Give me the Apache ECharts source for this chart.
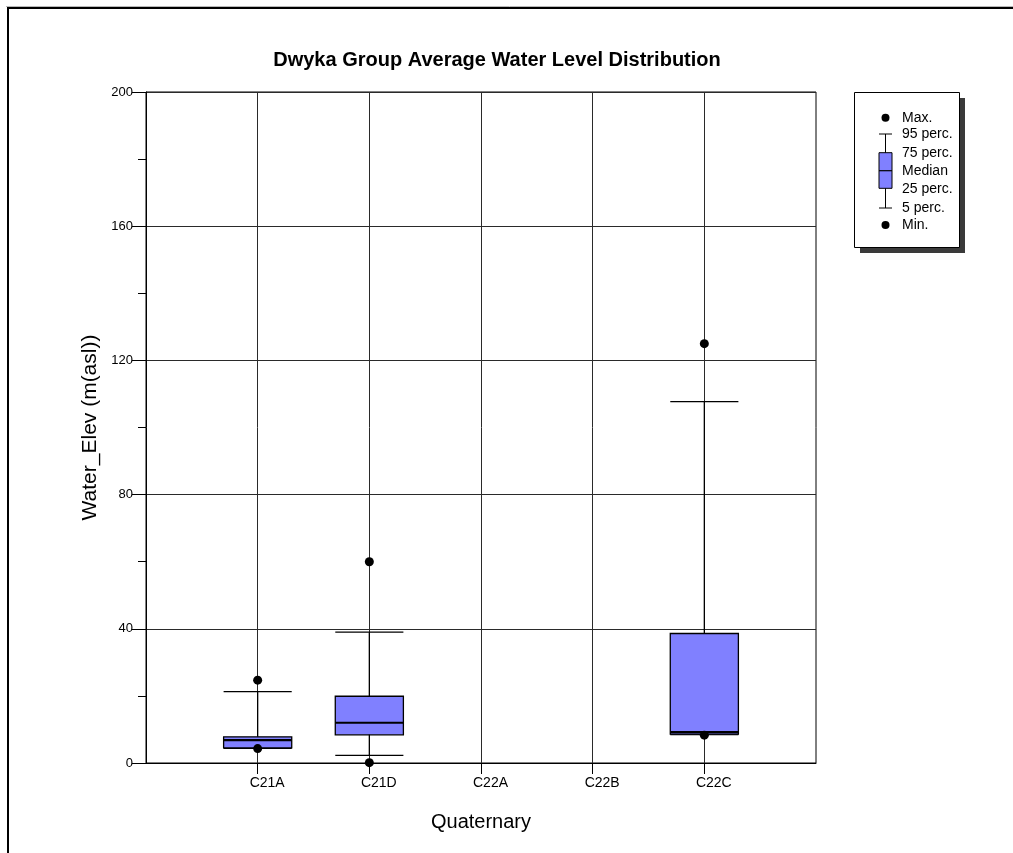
<!DOCTYPE html>
<html>
<head>
<meta charset="utf-8">
<title>Dwyka Group Average Water Level Distribution</title>
<script src="https://cdn.jsdelivr.net/npm/echarts@6/dist/echarts.min.js"></script>
<style>
  html, body { margin: 0; padding: 0; background: #ffffff; }
  #chart { width: 1013px; height: 853px; }
</style>
</head>
<body>
<div id="chart"></div>
<script>
// Sub-catchments of the Quaternary grouping
const categories = ['C21A', 'C21D', 'C22A', 'C22B', 'C22C'];

// Water level statistics per sub-catchment (m asl); null = no boreholes
const minVals    = [4.3, 0.1, null, null, 8.3];
const perc5      = [4.4, 2.3, null, null, 8.5];
const perc25     = [4.5, 8.4, null, null, 8.6];
const medians    = [6.8, 12.0, null, null, 9.2];
const perc75     = [7.8, 19.9, null, null, 38.6];
const perc95     = [21.3, 39.0, null, null, 107.7];
const maxVals    = [24.7, 60.0, null, null, 125.0];

// Y axis ticks
const yTicks = [0, 40, 80, 120, 160, 200];

const legendLabels = ['Max.', '95 perc.', '75 perc.', 'Median', '25 perc.', '5 perc.', 'Min.'];

const FONT = "'Liberation Sans', Arial, Helvetica, sans-serif";
const BOX_FILL = '#8080ff';

// One row per category: [xPosition, min, p5, p25, median, p75, p95, max]
const boxRows = categories.map((c, i) => [
  i + 1, minVals[i], perc5[i], perc25[i], medians[i], perc75[i], perc95[i], maxVals[i]
]).filter(r => r[4] !== null);

function renderBox(params, api) {
  const x = api.value(0);
  const vals = [1, 2, 3, 4, 5, 6, 7].map(k => api.value(k));
  const pt = v => api.coord([x, v]);
  const half = api.size([1, 0])[0] * 0.305;
  const cx = pt(vals[3])[0];
  const yMin = pt(vals[0])[1], y5 = pt(vals[1])[1], y25 = pt(vals[2])[1];
  const yMed = pt(vals[3])[1], y75 = pt(vals[4])[1], y95 = pt(vals[5])[1];
  const yMax = pt(vals[6])[1];
  const line = { stroke: '#000', lineWidth: 1.3 };
  return {
    type: 'group',
    children: [
      { type: 'line', shape: { x1: cx, y1: y95, x2: cx, y2: y5 }, style: line },
      { type: 'line', shape: { x1: cx - half, y1: y95, x2: cx + half, y2: y95 }, style: line },
      { type: 'line', shape: { x1: cx - half, y1: y5, x2: cx + half, y2: y5 }, style: line },
      { type: 'rect', shape: { x: cx - half, y: y75, width: 2 * half, height: y25 - y75 },
        style: { fill: BOX_FILL, stroke: '#000', lineWidth: 1.3 } },
      { type: 'line', shape: { x1: cx - half, y1: yMed, x2: cx + half, y2: yMed },
        style: { stroke: '#000', lineWidth: 2.2 } },
      { type: 'circle', shape: { cx: cx, cy: yMax, r: 4.5 }, style: { fill: '#000' } },
      { type: 'circle', shape: { cx: cx, cy: yMin, r: 4.5 }, style: { fill: '#000' } }
    ]
  };
}

// Legend panel drawn in the upper right corner
function legendGraphic() {
  const lx = 885.5;
  const rows = [117.7, 134, 152.7, 170.7, 188.3, 208, 225];
  const children = [
    { type: 'rect', shape: { x: 860, y: 98, width: 105, height: 155 }, style: { fill: '#3a3a3a' } },
    { type: 'rect', shape: { x: 854.5, y: 92.5, width: 105, height: 155 },
      style: { fill: '#fff', stroke: '#000', lineWidth: 1 } },
    { type: 'line', shape: { x1: lx, y1: rows[1], x2: lx, y2: rows[5] }, style: { stroke: '#000', lineWidth: 1 } },
    { type: 'line', shape: { x1: 879, y1: rows[1], x2: 892, y2: rows[1] }, style: { stroke: '#000', lineWidth: 1 } },
    { type: 'line', shape: { x1: 879, y1: rows[5], x2: 892, y2: rows[5] }, style: { stroke: '#000', lineWidth: 1 } },
    { type: 'rect', shape: { x: 879, y: rows[2], width: 13, height: rows[4] - rows[2] },
      style: { fill: BOX_FILL, stroke: '#000', lineWidth: 1 } },
    { type: 'line', shape: { x1: 879, y1: rows[3], x2: 892, y2: rows[3] }, style: { stroke: '#000', lineWidth: 1.2 } },
    { type: 'circle', shape: { cx: lx, cy: rows[0], r: 4 }, style: { fill: '#000' } },
    { type: 'circle', shape: { cx: lx, cy: rows[6], r: 4 }, style: { fill: '#000' } }
  ];
  legendLabels.forEach((t, i) => {
    children.push({
      type: 'text', x: 902, y: rows[i] + 0.5,
      style: { text: t, fill: '#000', font: '14px ' + FONT, textVerticalAlign: 'middle' }
    });
  });
  return children;
}

const chart = echarts.init(document.getElementById('chart'), null, { renderer: 'canvas' });

chart.setOption({
  animation: false,
  backgroundColor: '#ffffff',
  title: {
    text: 'Dwyka Group Average Water Level Distribution',
    left: 492,
    top: 45,
    textAlign: 'center',
    textStyle: { fontFamily: FONT, fontSize: 20, fontWeight: 'bold', color: '#000' }
  },
  grid: {
    left: 146, top: 92, width: 670, height: 671,
    show: true, borderColor: '#000', borderWidth: 1, backgroundColor: 'transparent'
  },
  xAxis: {
    type: 'value',
    min: 0, max: categories.length + 1, interval: 1,
    name: 'Quaternary',
    nameLocation: 'middle',
    nameGap: 49,
    nameTextStyle: { fontFamily: FONT, fontSize: 20, color: '#000' },
    axisLine: { show: true, lineStyle: { color: '#000', width: 1 } },
    axisTick: { show: true, length: 11, lineStyle: { color: '#000' },
      customValues: categories.map((c, i) => i + 1) },
    axisLabel: {
      fontFamily: FONT, fontSize: 14, color: '#000', margin: 13,
      padding: [0, 0, 0, 19],
      customValues: categories.map((c, i) => i + 1),
      formatter: v => categories[v - 1] || ''
    },
    splitLine: { show: true, lineStyle: { color: '#2a2a2a', width: 1 } }
  },
  yAxis: {
    type: 'value',
    min: yTicks[0], max: yTicks[yTicks.length - 1], interval: yTicks[1] - yTicks[0],
    name: 'Water_Elev (m(asl))',
    nameLocation: 'middle',
    nameGap: 42,
    nameRotate: 90,
    nameTextStyle: { fontFamily: FONT, fontSize: 21, color: '#000' },
    axisLine: { show: true, lineStyle: { color: '#000', width: 1 } },
    axisTick: { show: true, length: 14, lineStyle: { color: '#000' } },
    minorTick: { show: true, splitNumber: 2, length: 8, lineStyle: { color: '#000' } },
    axisLabel: { fontFamily: FONT, fontSize: 13, color: '#000', margin: 13 },
    splitLine: { show: true, lineStyle: { color: '#2a2a2a', width: 1 } }
  },
  series: [{
    type: 'custom',
    renderItem: renderBox,
    data: boxRows,
    encode: { x: 0, y: [1, 7] },
    z: 5
  }],
  graphic: [
    { type: 'line', shape: { x1: 6, y1: 6.5, x2: 1013, y2: 6.5 }, style: { stroke: '#b8b8b8', lineWidth: 1 } },
    { type: 'line', shape: { x1: 7, y1: 8, x2: 1013, y2: 8 }, style: { stroke: '#000', lineWidth: 2 } },
    { type: 'line', shape: { x1: 8, y1: 7, x2: 8, y2: 853 }, style: { stroke: '#000', lineWidth: 2 } },
    ...legendGraphic()
  ]
});
</script>
</body>
</html>
